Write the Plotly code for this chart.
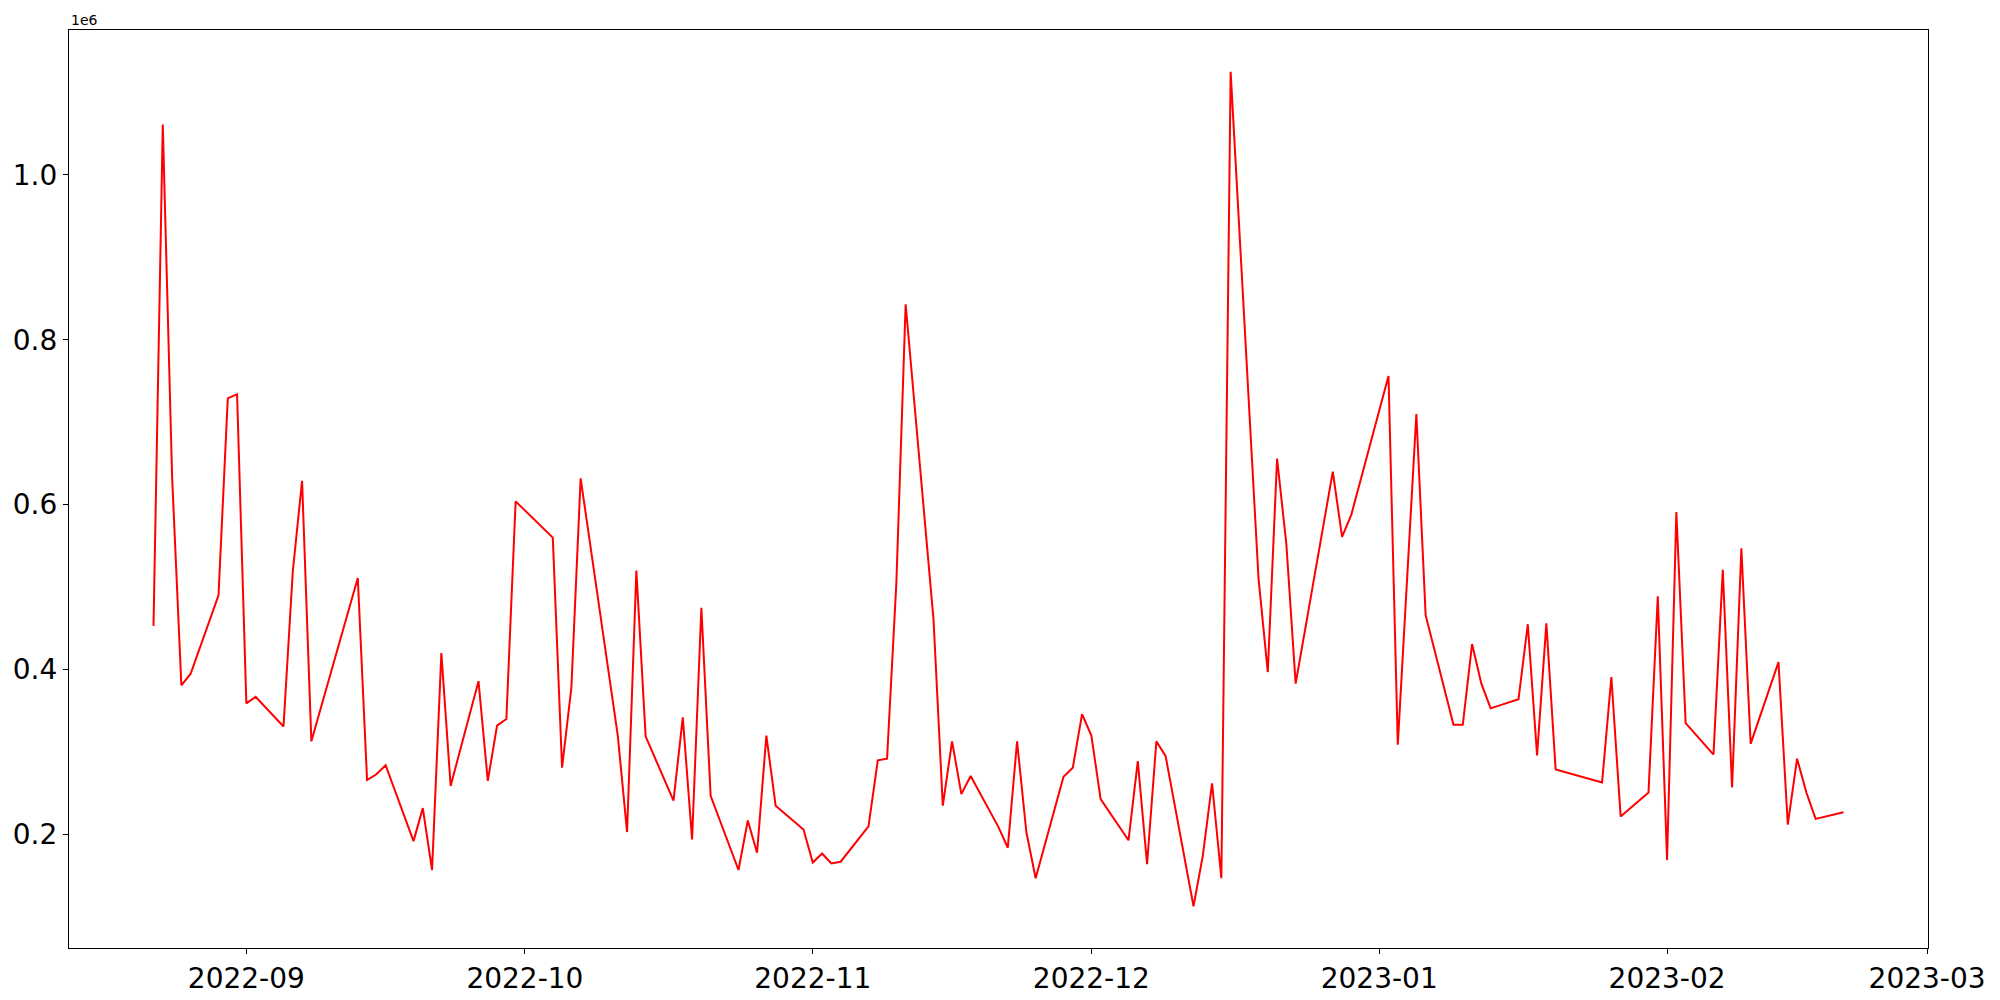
import plotly.graph_objects as go
import pandas as pd

dates = [
    "2022-08-22", "2022-08-23", "2022-08-24", "2022-08-25", "2022-08-26",
    "2022-08-29", "2022-08-30", "2022-08-31", "2022-09-01", "2022-09-02",
    "2022-09-05", "2022-09-06", "2022-09-07", "2022-09-08", "2022-09-13",
    "2022-09-14", "2022-09-15", "2022-09-16", "2022-09-19", "2022-09-20",
    "2022-09-21", "2022-09-22", "2022-09-23", "2022-09-26", "2022-09-27",
    "2022-09-28", "2022-09-29", "2022-09-30", "2022-10-04", "2022-10-05",
    "2022-10-06", "2022-10-07", "2022-10-11", "2022-10-12", "2022-10-13",
    "2022-10-14", "2022-10-17", "2022-10-18", "2022-10-19", "2022-10-20",
    "2022-10-21", "2022-10-24", "2022-10-25", "2022-10-26", "2022-10-27",
    "2022-10-28", "2022-10-31", "2022-11-01", "2022-11-02", "2022-11-03",
    "2022-11-04", "2022-11-07", "2022-11-08", "2022-11-09", "2022-11-10",
    "2022-11-11", "2022-11-14", "2022-11-15", "2022-11-16", "2022-11-17",
    "2022-11-18", "2022-11-21", "2022-11-22", "2022-11-23", "2022-11-24",
    "2022-11-25", "2022-11-28", "2022-11-29", "2022-11-30", "2022-12-01",
    "2022-12-02", "2022-12-05", "2022-12-06", "2022-12-07", "2022-12-08",
    "2022-12-09", "2022-12-12", "2022-12-13", "2022-12-14", "2022-12-15",
    "2022-12-16", "2022-12-19", "2022-12-20", "2022-12-21", "2022-12-22",
    "2022-12-23", "2022-12-27", "2022-12-28", "2022-12-29", "2023-01-02",
    "2023-01-03", "2023-01-05", "2023-01-06", "2023-01-09", "2023-01-10",
    "2023-01-11", "2023-01-12", "2023-01-13", "2023-01-16", "2023-01-17",
    "2023-01-18", "2023-01-19", "2023-01-20", "2023-01-25", "2023-01-26",
    "2023-01-27", "2023-01-30", "2023-01-31", "2023-02-01", "2023-02-02",
    "2023-02-03", "2023-02-06", "2023-02-07", "2023-02-08", "2023-02-09",
    "2023-02-10", "2023-02-13", "2023-02-14", "2023-02-15", "2023-02-16",
    "2023-02-17", "2023-02-20",
]

values = [
    453000, 1061000, 635000, 381000, 395000,
    490000, 729000, 734000, 359000, 367000,
    331000, 519000, 629000, 313000, 511000,
    266000, 273000, 284000, 192000, 232000,
    157000, 420000, 259000, 386000, 265000,
    332000, 340000, 604000, 560000, 281000,
    378000, 632000, 320000, 203000, 520000,
    319000, 241000, 342000, 194000, 475000,
    247000, 157000, 217000, 178000, 320000,
    235000, 206000, 166000, 177000, 165000,
    167000, 210000, 290000, 292000, 505000,
    843000, 461000, 235000, 313000, 249000,
    271000, 209000, 184000, 313000, 203000,
    147000, 270000, 281000, 346000, 320000,
    243000, 193000, 289000, 164000, 313000,
    295000, 113000, 174000, 262000, 147000,
    1125000, 511000, 397000, 656000, 552000,
    383000, 640000, 561000, 588000, 756000,
    309000, 710000, 466000, 333000, 333000,
    431000, 383000, 353000, 364000, 455000,
    296000, 456000, 279000, 263000, 391000,
    222000, 251000, 489000, 169000, 591000,
    335000, 297000, 521000, 257000, 547000,
    310000, 409000, 212000, 292000, 251000,
    219000, 227000,
]

y_tick_vals = [200000, 400000, 600000, 800000, 1000000]
y_tick_text = ["0.2", "0.4", "0.6", "0.8", "1.0"]
x_tick_vals = ["2022-09-01", "2022-10-01", "2022-11-01", "2022-12-01",
               "2023-01-01", "2023-02-01", "2023-03-01"]
x_tick_text = ["2022-09", "2022-10", "2022-11", "2022-12",
               "2023-01", "2023-02", "2023-03"]
offset_label = "1e6"

d = pd.to_datetime(dates)
span = d.max() - d.min()
x_range = [d.min() - span * 0.05, d.max() + span * 0.05]
vmin, vmax = min(values), max(values)
vspan = vmax - vmin
y_range = [vmin - vspan * 0.05, vmax + vspan * 0.05]

fig = go.Figure()
fig.add_trace(go.Scatter(x=d, y=values, mode="lines",
                         line=dict(color="red", width=2), showlegend=False))

axis_common = dict(showline=True, linecolor="black", linewidth=1.2, mirror=True,
                   ticks="outside", ticklen=5, tickwidth=1.2, tickcolor="black",
                   showgrid=False, zeroline=False, automargin=False,
                   tickfont=dict(family="DejaVu Sans", size=28, color="black"))

fig.update_xaxes(range=x_range, tickmode="array", tickvals=x_tick_vals,
                 ticktext=x_tick_text, **axis_common)
fig.update_yaxes(range=y_range, tickmode="array", tickvals=y_tick_vals,
                 ticktext=y_tick_text, **axis_common)

fig.add_annotation(text=offset_label, xref="paper", yref="paper", x=0, y=1,
                   xanchor="left", yanchor="bottom", showarrow=False,
                   font=dict(family="DejaVu Sans", size=14, color="black"),
                   yshift=0)

fig.update_layout(width=2000, height=1000, plot_bgcolor="white",
                  paper_bgcolor="white",
                  margin=dict(l=69, r=72, t=30, b=52, pad=0))

fig.write_html("out.html",
               config={"displayModeBar": False},
               post_script="document.body.style.margin='0';"
                           "document.body.style.overflow='hidden';")
